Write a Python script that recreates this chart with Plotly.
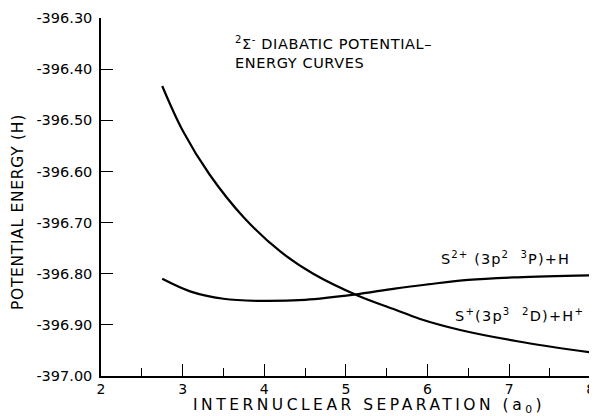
import plotly.graph_objects as go

# Data
sep_ion = [2.75, 3.0, 3.33, 3.75, 4.2, 4.6, 5.15, 5.6, 5.9, 6.4, 7.1, 8.0]
energy_ion = [-396.433, -396.52, -396.606, -396.69, -396.757, -396.80,
              -396.843, -396.87, -396.888, -396.91, -396.932, -396.954]

sep_neu = [2.75, 3.1, 3.5, 3.9, 4.5, 5.1, 5.6, 6.0, 6.5, 7.1, 8.0]
energy_neu = [-396.81, -396.835, -396.849, -396.853, -396.851, -396.841,
              -396.829, -396.821, -396.812, -396.807, -396.803]

y_tick_vals = [-397.0, -396.9, -396.8, -396.7, -396.6, -396.5, -396.4, -396.3]
y_tick_text = ["-397.00", "-396.90", "-396.80", "-396.70", "-396.60",
               "-396.50", "-396.40", "-396.30"]
x_tick_vals = [2, 3, 4, 5, 6, 7, 8]
x_tick_text = ["2", "3", "4", "5", "6", "7", "8"]

FONT = "DejaVu Sans"

fig = go.Figure()
for xs, ys in [(sep_ion, energy_ion), (sep_neu, energy_neu)]:
    fig.add_trace(go.Scatter(x=xs, y=ys, mode="lines",
                             line=dict(color="black", width=2.2, shape="spline", smoothing=1.0),
                             showlegend=False, hoverinfo="skip", cliponaxis=False))

# page body has an 8px margin, so the figure is sized to fit the window
fig.update_layout(
    width=589, height=408,
    margin=dict(l=93, r=6, t=10, b=40, autoexpand=False),
    paper_bgcolor="white", plot_bgcolor="white",
    font=dict(family=FONT, color="black", size=13),
    xaxis=dict(range=[2, 8.003], showgrid=False, zeroline=False, automargin=False,
               showline=True, linecolor="black", linewidth=1.5,
               tickmode="array", tickvals=x_tick_vals, ticktext=x_tick_text,
               ticks="inside", ticklen=12, tickwidth=1.3, tickcolor="black",
               minor=dict(dtick=0.5, tick0=2, ticks="inside", ticklen=8,
                          tickwidth=1.3, tickcolor="black"),
               tickfont=dict(size=14), ticklabelstandoff=-1,
               ticklabeloverflow="allow"),
    yaxis=dict(range=[-397.0, -396.3], showgrid=False, zeroline=False, automargin=False,
               showline=True, linecolor="black", linewidth=1.5,
               tickmode="array", tickvals=y_tick_vals, ticktext=y_tick_text,
               ticks="inside", ticklen=12, tickwidth=1.3, tickcolor="black",
               tickfont=dict(size=14.5), ticklabelstandoff=4),
)

# Axis titles
fig.add_annotation(xref="x", yref="paper", x=5.28, y=0, yshift=-18,
                   xanchor="center", yanchor="top", showarrow=False,
                   text='<span style="letter-spacing:3.5px">INTERNUCLEAR SEPARATION (a<sub>0</sub>)</span>',
                   font=dict(size=15.5))
fig.add_annotation(xref="paper", yref="paper", x=0, xshift=-83, y=0.458,
                   xanchor="center", yanchor="middle", showarrow=False, textangle=-90,
                   text='<span style="letter-spacing:0.7px">POTENTIAL ENERGY (H)</span>',
                   font=dict(size=15.5))

fig.add_annotation(xref="paper", yref="paper", x=0.27, y=0.96,
                   xanchor="left", yanchor="top", align="left", showarrow=False,
                   text='<span style="letter-spacing:0.6px"><sup>2</sup>Σ<sup>-</sup> DIABATIC POTENTIAL–<br>ENERGY CURVES</span>',
                   font=dict(size=14.5))
fig.add_annotation(x=7.77, y=-396.79, xanchor="right", yanchor="bottom", showarrow=False,
                   text='<span style="letter-spacing:1.1px">S<sup>2+</sup> (3p<sup>2</sup>  <sup>3</sup>P)+H</span>',
                   font=dict(size=14.5))
fig.add_annotation(x=7.94, y=-396.88, xanchor="right", yanchor="middle", showarrow=False,
                   text='<span style="letter-spacing:1.2px">S<sup>+</sup>(3p<sup>3</sup>  <sup>2</sup>D)+H<sup>+</sup></span>',
                   font=dict(size=14.5))

fig.write_html("out.html")
